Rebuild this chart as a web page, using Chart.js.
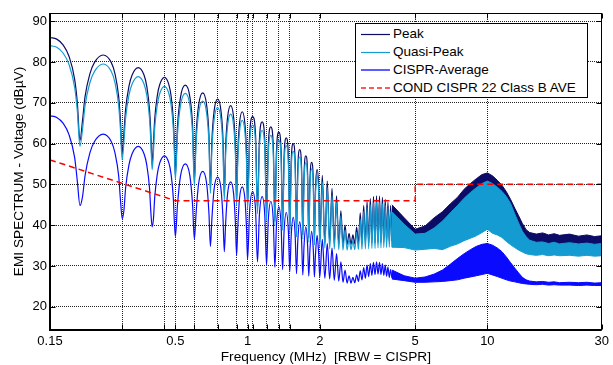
<!DOCTYPE html>
<html>
<head>
<meta charset="utf-8">
<script src="https://cdn.jsdelivr.net/npm/chart.js@4.4.0/dist/chart.umd.min.js"></script>
<style>
  html, body { margin: 0; padding: 0; background: #fff; }
  #wrap { position: relative; width: 613px; height: 365px; overflow: hidden; }
  #legend {
    position: absolute; left: 355px; top: 23px; width: 231px; height: 73px;
    border: 1px solid #000; background: #fff;
    font-family: 'Liberation Sans', Arial, sans-serif; font-size: 13.5px; color: #000;
  }
  .row { position: absolute; left: 0; width: 231px; height: 18px; line-height: 18px; white-space: nowrap; }
  .row svg { position: absolute; left: 5px; top: 0; }
  .row span { position: absolute; left: 37px; top: 0; }
</style>
</head>
<body>
<div id="wrap">
  <canvas id="emi" width="613" height="365"></canvas>
  <div id="legend">
    <div class="row" style="top:0.5px"><svg width="30" height="18"><line x1="0" y1="9.5" x2="29" y2="9.5" stroke="#0c0c66" stroke-width="1.2"/></svg><span>Peak</span></div>
    <div class="row" style="top:18.7px"><svg width="30" height="18"><line x1="0" y1="9.5" x2="29" y2="9.5" stroke="#149bd1" stroke-width="1.2"/></svg><span>Quasi-Peak</span></div>
    <div class="row" style="top:37px"><svg width="30" height="18"><line x1="0" y1="9" x2="29" y2="9" stroke="#5c5cff" stroke-width="2"/></svg><span>CISPR-Average</span></div>
    <div class="row" style="top:55.3px"><svg width="30" height="18"><line x1="0" y1="9" x2="29" y2="9" stroke="#ff2020" stroke-width="1.6" stroke-dasharray="5 3"/></svg><span>COND CISPR 22 Class B AVE</span></div>
  </div>
</div>
<script>
// Lobed part of the spectrum (0.15 - 4 MHz), MHz
const lobeFreq = [
  0.15, 0.16, 0.17, 0.18, 0.19, 0.195,
  0.2, 0.205, 0.21, 0.22, 0.23, 0.25, 0.27, 0.28, 0.29, 0.295,
  0.3, 0.305, 0.31, 0.32, 0.33, 0.35, 0.37, 0.38, 0.39, 0.395,
  0.4, 0.405, 0.41, 0.42, 0.43, 0.45, 0.47, 0.48, 0.49, 0.495,
  0.5, 0.51, 0.525, 0.55, 0.575, 0.59,
  0.6, 0.61, 0.625, 0.65, 0.675, 0.69,
  0.7, 0.71, 0.725, 0.75, 0.775, 0.79,
  0.8, 0.81, 0.825, 0.85, 0.875, 0.89,
  0.9, 0.91, 0.925, 0.95, 0.975, 0.99,
  1.0, 1.02, 1.05, 1.08,
  1.1, 1.12, 1.15, 1.18,
  1.2, 1.22, 1.25, 1.28,
  1.3, 1.32, 1.35, 1.38,
  1.4, 1.42, 1.45, 1.48,
  1.5, 1.52, 1.55, 1.58,
  1.6, 1.62, 1.65, 1.68,
  1.7, 1.72, 1.75, 1.78,
  1.8, 1.82, 1.85, 1.88,
  1.9, 1.92, 1.95, 1.98,
  2.0, 2.05, 2.1, 2.15, 2.2, 2.25, 2.3, 2.35, 2.4, 2.45,
  2.5, 2.55, 2.6, 2.65, 2.7, 2.75, 2.8, 2.85, 2.9, 2.95,
  3.0, 3.05, 3.1, 3.15, 3.2, 3.25, 3.3, 3.35, 3.4, 3.45,
  3.5, 3.55, 3.6, 3.65, 3.7, 3.75, 3.8, 3.85, 3.9, 3.95,
  4.0
];

const peakLobe = [
  86.0, 85.6, 84.2, 81.4, 75.8, 70.0,
  60.7, 65.7, 71.5, 77.1, 79.9, 81.7, 79.9, 77.1, 71.5, 65.7,
  57.5, 62.6, 68.4, 74.0, 76.8, 78.6, 76.8, 74.0, 68.4, 62.6,
  54.8, 60.2, 66.0, 71.6, 74.4, 76.2, 74.4, 71.6, 66.0, 60.2,
  52.2, 64.1, 71.3, 74.3, 71.3, 64.1,
  50.8, 62.2, 69.4, 72.4, 69.4, 62.2,
  49.0, 60.7, 67.9, 70.9, 67.9, 60.7,
  47.3, 59.1, 66.3, 69.3, 66.3, 59.1,
  45.8, 57.6, 64.8, 67.8, 64.8, 57.6,
  45.0, 62.0, 66.6, 62.0,
  43.8, 60.7, 65.3, 60.7,
  42.2, 59.5, 64.1, 59.5,
  41.0, 58.2, 62.8, 58.2,
  39.8, 56.8, 61.4, 56.8,
  38.9, 55.4, 60.0, 55.4,
  38.1, 53.9, 58.5, 53.9,
  37.6, 52.4, 57.0, 52.4,
  36.9, 50.8, 55.4, 50.8,
  36.2, 49.0, 53.6, 49.0,
  35.8, 52.2, 35.6, 50.8, 35.5, 49.0, 35.4, 47.2, 35.3, 43.5,
  35.2, 40.0, 35.2, 38.0, 35.3, 37.6, 35.4, 39.5, 35.5, 43.0,
  35.5, 44.8, 35.6, 45.8, 35.6, 46.5, 35.7, 47.0, 35.7, 47.2,
  35.8, 47.1, 35.8, 46.8, 35.9, 46.3, 36.0, 45.6, 36.0, 44.8,
  36.1
];

const qpLobe = [
  84.0, 83.6, 82.2, 79.4, 73.8, 68.0,
  59.3, 63.5, 69.3, 74.9, 77.7, 79.5, 77.7, 74.9, 69.3, 63.5,
  56.0, 60.4, 66.2, 71.8, 74.6, 76.4, 74.6, 71.8, 66.2, 60.4,
  53.6, 58.0, 63.8, 69.4, 72.2, 74.0, 72.2, 69.4, 63.8, 58.0,
  51.2, 62.1, 69.3, 72.3, 69.3, 62.1,
  49.6, 60.2, 67.4, 70.4, 67.4, 60.2,
  47.8, 58.6, 65.8, 68.8, 65.8, 58.6,
  46.2, 57.0, 64.2, 67.2, 64.2, 57.0,
  44.8, 55.5, 62.7, 65.7, 62.7, 55.5,
  43.9, 59.9, 64.5, 59.9,
  42.8, 58.6, 63.2, 58.6,
  41.1, 57.4, 62.0, 57.4,
  39.9, 56.2, 60.8, 56.2,
  38.7, 54.9, 59.5, 54.9,
  37.9, 53.5, 58.1, 53.5,
  37.1, 52.1, 56.7, 52.1,
  36.6, 50.7, 55.3, 50.7,
  35.8, 49.2, 53.8, 49.2,
  35.1, 47.5, 52.1, 47.5,
  34.6, 50.6, 34.4, 49.2, 34.2, 47.4, 34.1, 45.6, 34.0, 42.3,
  33.9, 38.8, 33.9, 36.6, 34.0, 36.2, 34.0, 38.2, 34.1, 41.5,
  34.1, 43.3, 34.2, 44.3, 34.2, 45.0, 34.3, 45.5, 34.3, 45.7,
  34.4, 45.6, 34.4, 45.3, 34.5, 44.8, 34.5, 44.1, 34.6, 43.3,
  34.6
];

const avgLobe = [
  66.8, 66.4, 65.0, 62.2, 56.6, 50.8,
  44.8, 47.0, 52.1, 57.7, 60.5, 62.3, 60.5, 57.7, 52.1, 46.3,
  41.6, 43.6, 49.1, 54.7, 57.5, 59.3, 57.5, 54.7, 49.1, 43.3,
  39.6, 41.5, 46.8, 52.4, 55.2, 57.0, 55.2, 52.4, 46.8, 41.0,
  37.2, 44.8, 52.0, 55.0, 52.0, 44.8,
  36.5, 43.0, 50.2, 53.2, 50.2, 43.0,
  34.8, 41.6, 48.8, 51.8, 48.8, 41.6,
  33.5, 40.4, 47.6, 50.6, 47.6, 40.4,
  32.6, 39.2, 46.4, 49.4, 46.4, 39.2,
  31.6, 43.6, 48.2, 43.6,
  31.0, 42.4, 47.0, 42.4,
  30.2, 41.2, 45.8, 41.2,
  29.7, 39.9, 44.5, 39.9,
  29.1, 38.5, 43.1, 38.5,
  28.6, 37.3, 41.9, 37.3,
  28.1, 36.2, 40.8, 36.2,
  27.8, 35.0, 39.6, 35.0,
  27.5, 33.9, 38.5, 33.9,
  27.3, 32.9, 37.5, 32.9,
  27.2, 36.5, 27.0, 35.5, 26.8, 34.4, 26.5, 33.0, 26.3, 31.0,
  26.0, 29.0, 25.8, 27.6, 25.8, 27.2, 25.9, 27.8, 26.2, 28.8,
  26.6, 29.6, 27.0, 30.2, 27.4, 30.6, 27.7, 30.9, 27.9, 31.0,
  28.0, 30.9, 27.9, 30.6, 27.7, 30.2, 27.5, 29.7, 27.2, 29.1,
  27.0
];

// Dense part (4 - 30 MHz): upper and lower edge of each band
const bandFreq = [
  4.0, 4.5, 5.0, 5.5, 6.0, 6.5, 7.0, 7.5, 8.0, 8.5,
  9.0, 9.5, 10.0, 10.5, 11.0, 11.5, 12.0, 12.5, 13.0, 13.5,
  14.0, 14.5, 15.0, 16, 17, 18, 19, 20, 22, 24,
  26, 28, 30
];
const peakHi = [
  45.0, 41.8, 39.0, 39.8, 41.8, 43.3, 45.2, 46.8, 48.8, 50.2,
  51.4, 52.4, 52.8, 52.1, 51.0, 49.8, 48.2, 46.3, 44.2, 42.3,
  40.4, 38.9, 38.2, 37.8, 38.1, 37.6, 37.9, 37.5, 37.8, 37.3,
  37.6, 37.2, 37.4
];
const peakLo = [
  37.0, 36.5, 36.0, 36.2, 36.8, 37.5, 38.5, 39.5, 40.5, 41.5,
  42.5, 43.0, 43.2, 43.0, 42.5, 41.5, 40.5, 39.5, 38.5, 37.5,
  36.5, 36.0, 35.5, 35.3, 35.4, 35.2, 35.3, 35.1, 35.3, 35.1,
  35.2, 35.0, 35.2
];
const qpHi = [
  43.3, 40.2, 37.8, 38.0, 39.3, 41.0, 43.0, 44.8, 46.6, 48.0,
  49.2, 50.2, 50.8, 50.2, 49.3, 48.3, 47.0, 45.3, 42.8, 40.5,
  38.5, 37.2, 36.3, 35.8, 35.9, 35.5, 35.8, 35.4, 35.7, 35.4,
  35.6, 35.3, 35.5
];
const qpLo = [
  34.6, 34.5, 33.9, 34.1, 34.3, 34.0, 34.8, 35.4, 36.2, 36.8,
  37.4, 38.2, 39.0, 38.0, 37.6, 37.0, 36.0, 35.2, 34.5, 33.9,
  33.4, 33.0, 32.8, 32.6, 32.8, 32.5, 32.7, 32.5, 32.6, 32.4,
  32.6, 32.4, 32.5
];
const avgHi = [
  29.0, 27.6, 27.0, 27.3, 28.0, 29.0, 30.4, 31.8, 33.0, 34.0,
  34.8, 35.3, 35.5, 35.1, 34.4, 33.5, 32.2, 30.8, 29.5, 28.3,
  27.2, 26.6, 26.3, 26.1, 26.2, 26.0, 26.1, 25.9, 26.0, 25.9,
  26.0, 25.8, 25.9
];
const avgLo = [
  26.8, 26.4, 26.0, 26.0, 26.1, 26.2, 26.4, 26.6, 27.0, 27.3,
  27.6, 27.9, 28.2, 27.8, 27.4, 27.0, 26.6, 26.3, 26.1, 25.9,
  25.7, 25.6, 25.5, 25.4, 25.5, 25.3, 25.4, 25.3, 25.3, 25.2,
  25.3, 25.2, 25.2
];

// CISPR 22 class B average limit (conducted)
const limitFreq = [0.15, 0.5, 5, 5, 30];
const limitLevel = [56, 46, 46, 50, 50];

const xGrid = [0.15, 0.3, 0.45, 0.5, 0.6, 0.75, 0.9, 1, 1.05, 1.2, 1.35, 1.5, 2, 5, 10, 30];
const xLabels = [0.15, 0.5, 1, 2, 5, 10, 30];
const yTicks = [20, 30, 40, 50, 60, 70, 80, 90];

const PEAK = '#0c0c66';
const QP = '#149bd1';
const AVG = '#0a0aff';
const LIMIT = '#ff0000';

const pts = (xs, ys) => xs.map((x, i) => ({ x, y: ys[i] }));

const lobe = (data, color, order) => ({
  data, borderColor: color, backgroundColor: color, borderWidth: 1.2,
  pointRadius: 0, fill: false, order, cubicInterpolationMode: 'monotone',
});
const edge = (data, color, order, fill) => ({
  data, borderColor: color, backgroundColor: color, borderWidth: 1,
  pointRadius: 0, fill, order, tension: 0,
});

// axes box with inward ticks, like the original plot
const frame = {
  id: 'frame',
  afterDraw(chart) {
    const { ctx, chartArea: a, scales: { x, y } } = chart;
    const l = Math.round(a.left) + 0.5, r = Math.round(a.right) - 0.5;
    const t = Math.round(a.top) + 0.5, b = Math.round(a.bottom) - 0.5;
    ctx.save();
    ctx.strokeStyle = '#000';
    ctx.lineWidth = 1;
    ctx.strokeRect(l, t, r - l, b - t);
    ctx.beginPath();
    xGrid.forEach(v => {
      const px = Math.round(x.getPixelForValue(v)) + 0.5;
      ctx.moveTo(px, b); ctx.lineTo(px, b - 5);
      ctx.moveTo(px, t); ctx.lineTo(px, t + 5);
    });
    yTicks.forEach(v => {
      const py = Math.round(y.getPixelForValue(v)) + 0.5;
      ctx.moveTo(l, py); ctx.lineTo(l + 5, py);
      ctx.moveTo(r, py); ctx.lineTo(r - 5, py);
    });
    ctx.stroke();
    ctx.lineWidth = 2;
    ctx.beginPath();
    ctx.moveTo(Math.round(a.left), a.top);
    ctx.lineTo(Math.round(a.left), Math.round(a.bottom));
    ctx.lineTo(a.right, Math.round(a.bottom));
    ctx.stroke();
    ctx.restore();
  },
};

new Chart(document.getElementById('emi'), {
  type: 'line',
  data: {
    datasets: [
      { data: pts(limitFreq, limitLevel), borderColor: LIMIT, borderWidth: 1.5, borderDash: [6, 4], pointRadius: 0, fill: false, order: 0, tension: 0 },
      lobe(pts(lobeFreq, avgLobe), AVG, 1),
      edge(pts(bandFreq, avgHi), AVG, 1, '+1'),
      edge(pts(bandFreq, avgLo), AVG, 1, false),
      lobe(pts(lobeFreq, qpLobe), QP, 2),
      edge(pts(bandFreq, qpHi), QP, 2, '+1'),
      edge(pts(bandFreq, qpLo), QP, 2, false),
      lobe(pts(lobeFreq, peakLobe), PEAK, 3),
      edge(pts(bandFreq, peakHi), PEAK, 3, '+1'),
      edge(pts(bandFreq, peakLo), PEAK, 3, false),
    ],
  },
  options: {
    responsive: false,
    animation: false,
    devicePixelRatio: 1,
    layout: { padding: { top: 13, right: 9, left: 0, bottom: 0 } },
    plugins: {
      legend: { display: false },
      tooltip: { enabled: false },
      filler: { drawTime: 'beforeDatasetDraw' },
    },
    scales: {
      x: {
        type: 'logarithmic',
        min: 0.15,
        max: 30,
        afterBuildTicks: (scale) => { scale.ticks = xGrid.map(v => ({ value: v })); },
        afterFit: (scale) => { scale.height = 35; },
        ticks: {
          autoSkip: false, maxRotation: 0, padding: 4, color: '#000',
          font: { family: "'Liberation Sans', Arial, sans-serif", size: 13 },
          callback: (v) => xLabels.includes(v) ? String(v) : '',
        },
        grid: { color: '#222', lineWidth: 1, drawTicks: false },
        border: { display: false, dash: [1, 1] },
        title: {
          display: true, text: 'Frequency (MHz)  [RBW = CISPR]', color: '#000',
          font: { family: "'Liberation Sans', Arial, sans-serif", size: 13.7 },
          padding: { top: 0, bottom: 0 },
        },
      },
      y: {
        min: 14.3,
        max: 92,
        afterBuildTicks: (scale) => { scale.ticks = yTicks.map(v => ({ value: v })); },
        afterFit: (scale) => { scale.width = 50; },
        ticks: {
          padding: 3, color: '#000',
          font: { family: "'Liberation Sans', Arial, sans-serif", size: 13 },
        },
        grid: { color: '#222', lineWidth: 1, drawTicks: false },
        border: { display: false, dash: [1, 1] },
        title: {
          display: true, text: 'EMI SPECTRUM - Voltage (dBµV)', color: '#000',
          font: { family: "'Liberation Sans', Arial, sans-serif", size: 13.7 },
          padding: { top: 11.5, bottom: 0 },
        },
      },
    },
  },
  plugins: [frame],
});
</script>
</body>
</html>
